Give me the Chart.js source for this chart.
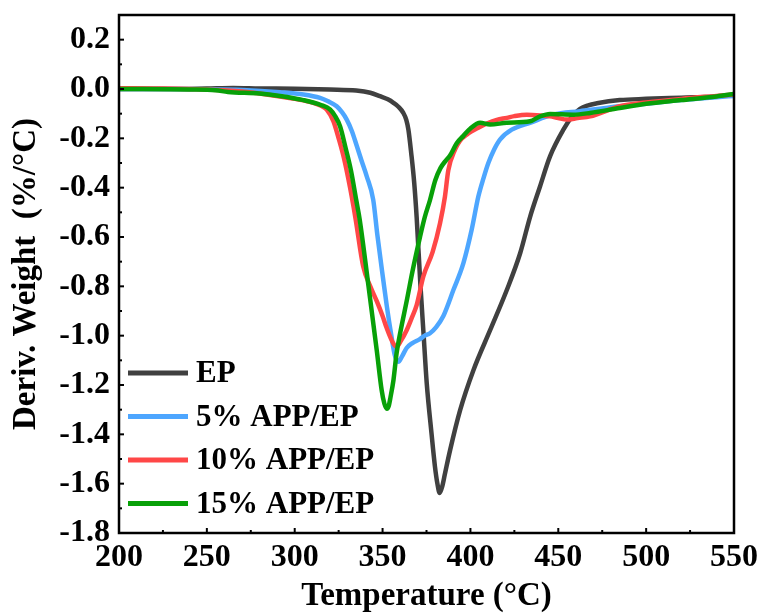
<!DOCTYPE html>
<html>
<head>
<meta charset="utf-8">
<script src="https://cdn.jsdelivr.net/npm/chart.js@4.4.1/dist/chart.umd.min.js"></script>
<style>
  html, body { margin: 0; padding: 0; background: #fff; }
  #wrap { width: 763px; height: 615px; }
</style>
</head>
<body>
<div id="wrap"><canvas id="dtg" width="763" height="615"></canvas></div>
<script>
// DTG curves (temperature in °C, deriv. weight in %/°C)

const seriesNames = ['EP', '5% APP/EP', '10% APP/EP', '15% APP/EP'];

const epTemp = [200, 230, 250, 265, 280, 300, 320, 335, 343, 348.5, 353, 356.2, 359, 361.8, 363.5, 364.7, 366.3, 368, 369.4, 371.5, 373.3, 375.1, 377.9, 379.8, 381.2, 382.5, 384, 385.5, 388.4, 394.1, 401.7, 411.2, 420.7, 428.3, 434, 439.6, 445.3, 452.9, 458, 462.4, 467, 472, 485, 500, 520, 540, 550];
const epDW   = [0.000, 0.000, 0.002, 0.004, 0.002, 0.001, -0.002, -0.006, -0.015, -0.029, -0.042, -0.056, -0.072, -0.097, -0.125, -0.165, -0.26, -0.38, -0.52, -0.79, -0.99, -1.19, -1.40, -1.53, -1.60, -1.638, -1.61, -1.56, -1.465, -1.303, -1.14, -0.978, -0.815, -0.666, -0.517, -0.395, -0.273, -0.165, -0.11, -0.08, -0.066, -0.058, -0.045, -0.04, -0.035, -0.03, -0.025];

const app5Temp = [200, 230, 250, 270, 291.6, 305, 314.4, 319, 323.9, 327, 329.6, 332.5, 335.3, 338, 341, 344.7, 347, 350.5, 352.4, 355, 357, 359, 361, 363.7, 367, 371, 374, 377, 380.5, 384.6, 390.3, 396, 400.7, 404.5, 407.5, 410.2, 413.5, 416.8, 423.5, 433.9, 447.2, 462.4, 485, 500, 520, 540, 550];
const app5DW   = [0.000, 0.000, -0.001, -0.004, -0.013, -0.022, -0.036, -0.05, -0.07, -0.095, -0.124, -0.17, -0.23, -0.29, -0.354, -0.45, -0.59, -0.78, -0.88, -1.0, -1.08, -1.106, -1.085, -1.05, -1.03, -1.015, -1.0, -0.99, -0.965, -0.92, -0.815, -0.706, -0.571, -0.436, -0.36, -0.30, -0.245, -0.205, -0.165, -0.137, -0.104, -0.09, -0.07, -0.06, -0.045, -0.033, -0.028];

const app10Temp = [200, 220, 250, 270, 291.6, 300, 310.6, 315, 318.2, 322, 325, 328, 331.5, 334.5, 339, 343, 346.7, 350, 352.4, 356, 358, 360.5, 363.7, 366.5, 369.4, 373.2, 378.5, 382.7, 385.5, 387.4, 391.2, 394, 397.9, 405, 409.3, 415, 420.7, 425, 432.1, 440, 445.3, 450, 454.8, 461, 468.1, 485, 500, 520, 540, 550];
const app10DW   = [0.003, 0.002, -0.002, -0.01, -0.03, -0.04, -0.056, -0.068, -0.083, -0.13, -0.2, -0.28, -0.40, -0.52, -0.72, -0.80, -0.86, -0.92, -0.97, -1.03, -1.045, -1.02, -0.978, -0.93, -0.876, -0.76, -0.66, -0.544, -0.436, -0.33, -0.246, -0.21, -0.185, -0.155, -0.14, -0.125, -0.117, -0.11, -0.104, -0.107, -0.111, -0.118, -0.124, -0.118, -0.111, -0.07, -0.055, -0.04, -0.028, -0.022];

const app15Temp = [200, 240, 255, 262, 280, 291.6, 305, 315, 320.1, 323, 325.8, 329, 332, 335, 337, 342, 346.7, 349.5, 351, 352.4, 353.5, 354.5, 356.2, 358, 360, 364, 367, 371.3, 374, 377, 380, 383, 386, 388.4, 392.2, 396, 400, 405.5, 411.2, 420.7, 433.9, 439.6, 445.3, 458.6, 468.1, 485, 500, 520, 540, 550];
const app15DW   = [0.000, -0.002, -0.005, -0.012, -0.018, -0.028, -0.045, -0.065, -0.083, -0.11, -0.151, -0.24, -0.33, -0.45, -0.53, -0.80, -1.06, -1.222, -1.275, -1.296, -1.285, -1.25, -1.18, -1.07, -0.99, -0.85, -0.74, -0.60, -0.52, -0.45, -0.37, -0.32, -0.29, -0.27, -0.22, -0.19, -0.16, -0.137, -0.144, -0.137, -0.131, -0.111, -0.101, -0.104, -0.097, -0.077, -0.06, -0.045, -0.03, -0.02];

const xTicks = [200, 250, 300, 350, 400, 450, 500, 550];
const yTicks = [-1.8, -1.6, -1.4, -1.2, -1.0, -0.8, -0.6, -0.4, -0.2, 0.0, 0.2];

const COLORS = ['#404040', '#4da6ff', '#ff4747', '#08a008'];
const SERIF  = "'Liberation Serif', 'Times New Roman', 'DejaVu Serif', serif";

const toPts = (t, v) => t.map((x, i) => ({ x, y: v[i] }));
const temps = [epTemp, app5Temp, app10Temp, app15Temp];
const vals  = [epDW, app5DW, app10DW, app15DW];

// frame + inward ticks, Origin style
const frameTicks = {
  id: 'frameTicks',
  afterDraw(chart) {
    const { ctx, chartArea: a, scales: { x, y } } = chart;
    ctx.save();
    ctx.strokeStyle = '#000';
    ctx.lineWidth = 2;
    const seg = (x1, y1, x2, y2) => { ctx.beginPath(); ctx.moveTo(x1, y1); ctx.lineTo(x2, y2); ctx.stroke(); };
    yTicks.forEach(v => {
      const p = y.getPixelForValue(v);
      seg(a.left, p, a.left + 5, p);
      const m = y.getPixelForValue(v + 0.1);
      if (m > a.top + 2) seg(a.left, m, a.left + 3, m);
    });
    xTicks.forEach(v => {
      const p = x.getPixelForValue(v);
      seg(p, a.bottom, p, a.bottom - 5);
      if (v < 550) {
        const m = x.getPixelForValue(v + 25);
        seg(m, a.bottom, m, a.bottom - 3);
      }
    });
    ctx.lineWidth = 2.5;
    ctx.strokeRect(a.left, a.top, a.right - a.left, a.bottom - a.top);
    ctx.restore();
  }
};

// legend sitting inside the plot, lower left
const insideLegend = {
  id: 'insideLegend',
  afterDraw(chart) {
    const { ctx } = chart;
    ctx.save();
    ctx.font = 'bold 31px ' + SERIF;
    ctx.textBaseline = 'middle';
    ctx.fillStyle = '#000';
    chart.data.datasets.forEach((ds, i) => {
      const yy = 373 + i * 43.5;
      ctx.strokeStyle = ds.borderColor;
      ctx.lineWidth = 5;
      ctx.beginPath();
      ctx.moveTo(128, yy);
      ctx.lineTo(188, yy);
      ctx.stroke();
      ctx.fillText(ds.label, 196, yy + 1);
    });
    ctx.restore();
  }
};

new Chart(document.getElementById('dtg'), {
  type: 'line',
  data: {
    datasets: seriesNames.map((name, i) => ({
      label: name,
      data: toPts(temps[i], vals[i]),
      borderColor: COLORS[i],
      borderWidth: 4.5,
      pointRadius: 0,
      cubicInterpolationMode: 'monotone',
      fill: false,
      order: 3 - i
    }))
  },
  options: {
    responsive: false,
    animation: false,
    devicePixelRatio: 1,
    layout: { padding: { top: 15, right: 29, left: 0, bottom: 0 } },
    plugins: { legend: { display: false }, tooltip: { enabled: false } },
    scales: {
      x: {
        type: 'linear',
        min: 200,
        max: 550,
        grid: { display: false, drawTicks: false },
        border: { display: false },
        afterBuildTicks: s => { s.ticks = xTicks.map(v => ({ value: v })); },
        afterFit: s => { s.height = 82; s.paddingLeft = 0; s.paddingRight = 0; },
        ticks: {
          color: '#000',
          padding: 6,
          maxRotation: 0,
          font: { family: SERIF, size: 32, weight: 'bold' },
          callback: v => String(v)
        },
        title: {
          display: true,
          text: 'Temperature (°C)',
          color: '#000',
          padding: { top: 0, bottom: 2 },
          font: { family: SERIF, size: 33, weight: 'bold', lineHeight: 1 }
        }
      },
      y: {
        min: -1.8,
        max: 0.3,
        grid: { display: false, drawTicks: false },
        border: { display: false },
        afterBuildTicks: s => { s.ticks = yTicks.map(v => ({ value: v })); },
        afterFit: s => { s.width = 119; s.paddingTop = 0; s.paddingBottom = 0; },
        ticks: {
          color: '#000',
          padding: 9,
          font: { family: SERIF, size: 32, weight: 'bold' },
          callback: v => v.toFixed(1)
        },
        title: {
          display: true,
          text: 'Deriv. Weight  (%/°C)',
          color: '#000',
          padding: { top: 10, bottom: 0 },
          font: { family: SERIF, size: 33, weight: 'bold', lineHeight: 1 }
        }
      }
    }
  },
  plugins: [frameTicks, insideLegend]
});
</script>
</body>
</html>
